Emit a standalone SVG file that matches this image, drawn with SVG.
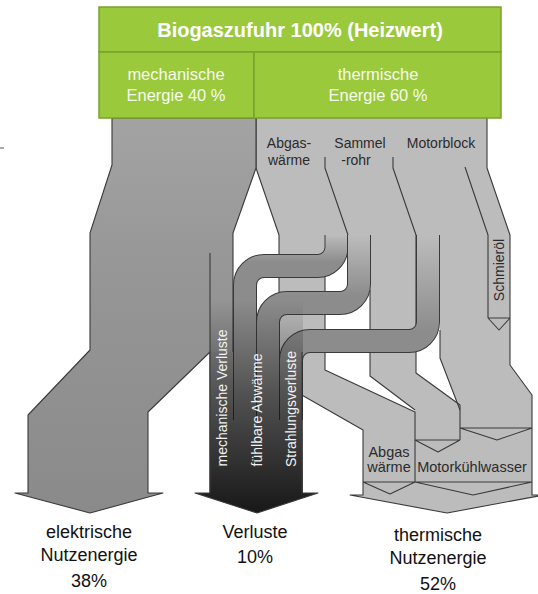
<svg xmlns="http://www.w3.org/2000/svg" width="538" height="594" viewBox="0 0 538 594">
  <defs>
    <linearGradient id="mechGrad" x1="0" y1="118" x2="0" y2="513" gradientUnits="userSpaceOnUse">
      <stop offset="0" stop-color="#a3a3a3"/>
      <stop offset="0.4" stop-color="#969696"/>
      <stop offset="1" stop-color="#8a8a8a"/>
    </linearGradient>
    <linearGradient id="lossGrad" x1="0" y1="300" x2="0" y2="510" gradientUnits="userSpaceOnUse">
      <stop offset="0" stop-color="#000" stop-opacity="0"/>
      <stop offset="0.45" stop-color="#000" stop-opacity="0.42"/>
      <stop offset="1" stop-color="#000" stop-opacity="0.82"/>
    </linearGradient>
    <linearGradient id="b1" x1="0" y1="235" x2="0" y2="262" gradientUnits="userSpaceOnUse">
      <stop offset="0" stop-color="#bcbcbc"/>
      <stop offset="1" stop-color="#8c8c8c"/>
    </linearGradient>
    <linearGradient id="b2" x1="0" y1="235" x2="0" y2="296" gradientUnits="userSpaceOnUse">
      <stop offset="0" stop-color="#bcbcbc"/>
      <stop offset="1" stop-color="#8c8c8c"/>
    </linearGradient>
    <linearGradient id="b3" x1="0" y1="235" x2="0" y2="332" gradientUnits="userSpaceOnUse">
      <stop offset="0" stop-color="#bcbcbc"/>
      <stop offset="1" stop-color="#8c8c8c"/>
    </linearGradient>
    <style>
      .therm { fill: #bcbcbc; stroke: none; }
      .edge { fill: none; stroke: #3a3a3a; stroke-width: 1.1; stroke-linejoin: round; }
      .bandO { fill: none; stroke: #3a3a3a; stroke-width: 24; }
      .bandF { fill: none; stroke-width: 22; }
      .hdr { fill: #9bc93c; stroke: #7ba12e; stroke-width: 1.5; }
      .ttl { font-family: "Liberation Sans", Arial, sans-serif; font-weight: bold; font-size: 20px; fill: #ffffff; text-anchor: middle; }
      .sub { font-family: "Liberation Sans", Arial, sans-serif; font-size: 16.5px; fill: #f6faee; text-anchor: middle; }
      .lbl { font-family: "Liberation Sans", Arial, sans-serif; font-size: 14px; fill: #2b2b2b; text-anchor: middle; }
      .box { font-family: "Liberation Sans", Arial, sans-serif; font-size: 14.5px; fill: #2b2b2b; text-anchor: middle; }
      .wl { font-family: "Liberation Sans", Arial, sans-serif; font-size: 14px; fill: #f2f2f2; text-anchor: middle; }
      .out { font-family: "Liberation Sans", Arial, sans-serif; font-size: 18px; fill: #111111; text-anchor: middle; }
    </style>
  </defs>

  <rect width="538" height="594" fill="#ffffff"/>
  <line x1="0" y1="148" x2="4" y2="148" stroke="#555" stroke-width="1"/>

  <!-- thermal streams -->
  <g id="thermal">
    <polygon class="therm" points="256,118 487,118 487,168 510,235 279,235 256,168"/>
    <polygon class="therm" points="279,234 325,234 325,370 415,412 415,482 363,482 363,430 302,395 279,395"/>
    <polygon class="therm" points="370,234 416,234 416,373 460,405 460,440 438,452 415,440 415,410 370,376"/>
    <polygon class="therm" points="440,234 510,234 510,365 532,395 532,428 497,440 460,428 460,410 440,358"/>
    <polygon class="therm" points="363,428 532,428 532,495 544,495 447,513 350,495 363,495"/>
    <path class="edge" d="M487,118 V168 L510,235 V365 L532,395 V495 L544,495 L447,513 L350,495 L363,495 V430 L300,394"/>
    <path class="edge" d="M256,118 V168 L279,235 V300"/>
    <path class="edge" d="M325,157 V168 L348,235"/>
    <path class="edge" d="M393,157 V168 L416,235 V373 L460,405 V440"/>
    <path class="edge" d="M465,167 L488,235 V318"/>
    <path class="edge" d="M325,270 V370 L415,412 V482"/>
    <path class="edge" d="M370,290 V376 L415,410"/>
    <path class="edge" d="M440,330 V358 L460,410"/>
    <path class="edge" d="M488,318 H510 M488,318 L499,330 L510,318"/>
    <path class="edge" d="M460,428 H532 M460,428 L497,440 L532,428"/>
    <path class="edge" d="M415,440 H460 M415,440 L438,452 L460,440"/>
    <path class="edge" d="M363,482 H532 M363,482 L390,494 L415,482 L473,495 L532,482"/>
  </g>

  <!-- mechanical / electric stream -->
  <g id="mechanisch">
    <polygon fill="url(#mechGrad)" stroke="#3a3a3a" stroke-width="1.1" stroke-linejoin="round" points="112,118 256,118 256,168 233,233 233,493 210,493 210,352 148,412 148,493 163,493 90,513 15,493 28,493 28,415 90,350 90,233 112,165"/>
  </g>

  <!-- loss arrow base -->
  <g id="verluste">
    <polygon fill="#8c8c8c" points="210,352 302,352 302,493 318,493 257,513 195,493 210,493"/>
  </g>

  <!-- connectors: bands from thermal parts to losses -->
  <g id="connectors">
    <g id="band-abgas">
      <path class="bandO" d="M336.5,235 V247 A19,19 0 0 1 317.5,266 H264 A19,19 0 0 0 245,285 V420"/>
      <path class="bandF" stroke="url(#b1)" d="M336.5,235 V247 A19,19 0 0 1 317.5,266 H264 A19,19 0 0 0 245,285 V420"/>
    </g>
    <g id="band-sammelrohr">
      <path class="bandO" d="M359,235 V284 A19,19 0 0 1 340,303 H287 A19,19 0 0 0 268,322 V420"/>
      <path class="bandF" stroke="url(#b2)" d="M359,235 V284 A19,19 0 0 1 340,303 H287 A19,19 0 0 0 268,322 V420"/>
    </g>
    <g id="band-motorblock">
      <path class="bandO" d="M428,235 V322 A19,19 0 0 1 409,341 H310 A19,19 0 0 0 291,360 V420"/>
      <path class="bandF" stroke="url(#b3)" d="M428,235 V322 A19,19 0 0 1 409,341 H310 A19,19 0 0 0 291,360 V420"/>
    </g>
  </g>

  <!-- loss arrow darkening and outline -->
  <g id="verluste-pfeil">
    <polygon fill="url(#lossGrad)" points="210,290 303,290 303,493 318,493 257,513 195,493 210,493"/>
    <path class="edge" d="M210,253 V493 L195,493 L257,513 L318,493 L302,493 V352"/>
    <text class="wl" transform="translate(222,398) rotate(-90)" y="5">mechanische Verluste</text>
    <text class="wl" transform="translate(257,410) rotate(-90)" y="5">fühlbare Abwärme</text>
    <text class="wl" transform="translate(291,409) rotate(-90)" y="5">Strahlungsverluste</text>
  </g>

  <!-- header -->
  <g id="header">
    <rect class="hdr" x="99" y="7" width="402" height="45"/>
    <rect class="hdr" x="99" y="52" width="155" height="66"/>
    <rect class="hdr" x="254" y="52" width="247" height="66"/>
    <text class="ttl" x="300" y="37">Biogaszufuhr 100% (Heizwert)</text>
    <text class="sub" x="176" y="80">mechanische</text>
    <text class="sub" x="176" y="101">Energie 40 %</text>
    <text class="sub" x="378" y="80">thermische</text>
    <text class="sub" x="378" y="101">Energie 60 %</text>
  </g>

  <!-- thermal part labels -->
  <g id="labels">
    <text class="lbl" x="289" y="148">Abgas-</text>
    <text class="lbl" x="289" y="165">wärme</text>
    <text class="lbl" x="360" y="148">Sammel</text>
    <text class="lbl" x="356" y="165">-rohr</text>
    <text class="lbl" x="441" y="148">Motorblock</text>
    <text class="lbl" transform="translate(499,270) rotate(-90)" y="5" font-size="13.5">Schmieröl</text>
    <text class="box" x="389" y="457">Abgas</text>
    <text class="box" x="389" y="472">wärme</text>
    <text class="box" x="472" y="472">Motorkühlwasser</text>
  </g>

  <!-- output labels -->
  <g id="outputs">
    <text class="out" x="89" y="538">elektrische</text>
    <text class="out" x="89" y="561">Nutzenergie</text>
    <text class="out" x="89" y="587">38%</text>
    <text class="out" x="255" y="538">Verluste</text>
    <text class="out" x="255" y="563">10%</text>
    <text class="out" x="438" y="541">thermische</text>
    <text class="out" x="438" y="564">Nutzenergie</text>
    <text class="out" x="438" y="590">52%</text>
  </g>
</svg>
